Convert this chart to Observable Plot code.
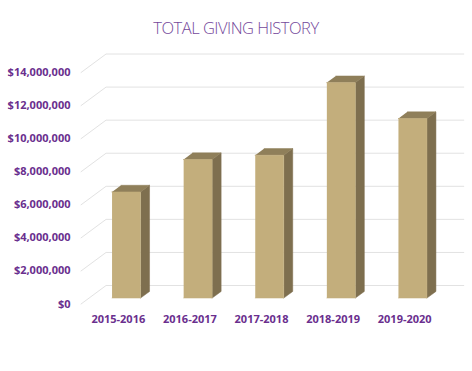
<!DOCTYPE html>
<html><head><meta charset="utf-8">
<script src="https://cdn.jsdelivr.net/npm/d3@7"></script>
<script src="https://cdn.jsdelivr.net/npm/@observablehq/plot@0.6"></script>
<style>
html,body{margin:0;padding:0;background:#fff;}
#title{height:28px;padding-top:17px;line-height:22px;text-align:center;font-family:"Open Sans",sans-serif;font-weight:300;font-size:16.5px;letter-spacing:-0.5px;color:#74489b;box-sizing:content-box;}
#chart svg{display:block;}
</style></head><body>
<div id="title">TOTAL GIVING HISTORY</div>
<div id="chart"></div>
<script>
const years = ["2015-2016", "2016-2017", "2017-2018", "2018-2019", "2019-2020"];
const giving = [6420000, 8380000, 8640000, 13030000, 10860000];
const yTicks = [0, 2000000, 4000000, 6000000, 8000000, 10000000, 12000000, 14000000];

// simple oblique projection: depth z in [0,1] shifts right and up
const DX = 0.349;      // x units per full depth
const DY = 1118000;    // value units per full depth
const proj = (x, v, z) => ({x: x + z * DX, y: v + z * DY});
const Z0 = 0.32, DZ = 0.36, HW = 0.199;
const XL = -0.52, XR = 4.476;

const grid = yTicks.flatMap(v => [
  {k: v, ...proj(XL, v, 0)},
  {k: v, ...proj(XL, v, 1)},
  {k: v, ...proj(XR, v, 1)}
]);

const frontFaces = [], sideFaces = [], topFaces = [];
years.forEach((yr, i) => {
  const v = giving[i], a = i - HW, b = i + HW;
  frontFaces.push({k: yr, ...proj(a, 0, Z0)}, {k: yr, ...proj(b, 0, Z0)}, {k: yr, ...proj(b, v, Z0)}, {k: yr, ...proj(a, v, Z0)});
  sideFaces.push({k: yr, ...proj(b, 0, Z0)}, {k: yr, ...proj(b, 0, Z0 + DZ)}, {k: yr, ...proj(b, v, Z0 + DZ)}, {k: yr, ...proj(b, v, Z0)});
  topFaces.push({k: yr, ...proj(a, v, Z0)}, {k: yr, ...proj(b, v, Z0)}, {k: yr, ...proj(b, v, Z0 + DZ)}, {k: yr, ...proj(a, v, Z0 + DZ)});
});

const purple = "#6a2f8e";
const chart = Plot.plot({
  width: 472,
  height: 326,
  marginLeft: 82,
  marginRight: 32,
  marginTop: 27,
  marginBottom: 67.5,
  style: {fontFamily: "'Open Sans', sans-serif", background: "#fff"},
  x: {type: "linear", domain: [-0.5, 4.5], axis: null},
  y: {domain: [0, 14000000], axis: null},
  marks: [
    Plot.line(grid, {x: "x", y: "y", z: "k", stroke: "#e2e2e2", strokeWidth: 1}),
    Plot.line(sideFaces, {x: "x", y: "y", z: "k", fill: "#7e6f4f", stroke: "#7e6f4f", strokeWidth: 0.5}),
    Plot.line(topFaces, {x: "x", y: "y", z: "k", fill: "#8f7f5a", stroke: "#8f7f5a", strokeWidth: 0.5}),
    Plot.line(frontFaces, {x: "x", y: "y", z: "k", fill: "#c3ae7c", stroke: "#c3ae7c", strokeWidth: 0.5}),
    Plot.axisY({ticks: yTicks, label: null, tickSize: 0, tickPadding: 12, tickFormat: d3.format("$,"), fill: purple, fontSize: 11, fontWeight: "bold"}),
    Plot.axisX({ticks: [0, 1, 2, 3, 4], label: null, tickSize: 0, tickPadding: 11, tickFormat: i => years[i], fill: purple, fontSize: 11, fontWeight: "bold"})
  ]
});
document.getElementById("chart").appendChild(chart);
</script>
</body></html>
